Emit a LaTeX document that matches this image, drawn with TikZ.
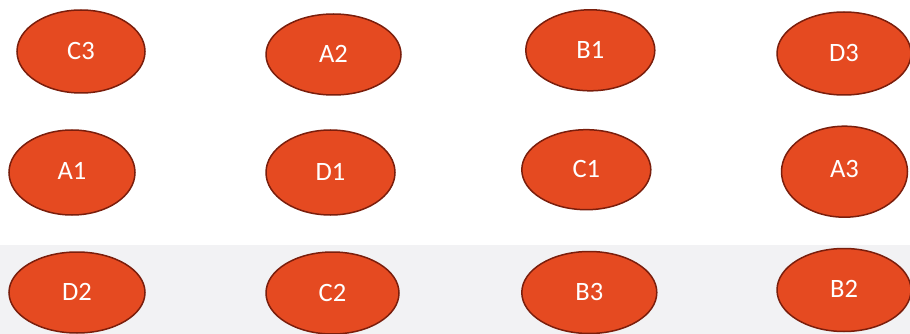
\documentclass[tikz,border=0pt]{standalone}
\usepackage{fontspec}
\setmainfont{Carlito}
\usetikzlibrary{shapes.geometric}
\definecolor{ovfill}{HTML}{E54A21}
\definecolor{ovline}{HTML}{7A1E0C}
\definecolor{bandgray}{HTML}{F2F2F4}
\tikzset{
  oval/.style={ellipse, draw=ovline, fill=ovfill, line width=1.5pt, inner sep=0pt,
    text=white, font=\fontsize{26.5}{26.5}\selectfont},
}
\begin{document}
\begin{tikzpicture}[x=1pt,y=-1pt]
\useasboundingbox (0,0) rectangle (910,334);
\fill[white] (0,0) rectangle (910,334);
\fill[bandgray] (0,245) rectangle (910,334);
% row 1
\node[oval, minimum width=128, minimum height=83] (c3) at (81,51.5) {\raisebox{2pt}{C3}};
\node[oval, minimum width=135, minimum height=81] (a2) at (333.5,54.5) {\raisebox{1pt}{A2}};
\node[oval, minimum width=129, minimum height=81] (b1) at (590.3,50.3) {\raisebox{1pt}{B1}};
\node[oval, minimum width=134, minimum height=83] (d3) at (844,53.5) {\raisebox{1pt}{D3}};
% row 2
\node[oval, minimum width=126, minimum height=85] (a1) at (72,172.5) {\raisebox{3pt}{A1}};
\node[oval, minimum width=129, minimum height=85] (d1) at (330.5,172.5) {\raisebox{2pt}{D1}};
\node[oval, minimum width=129, minimum height=80] (c1) at (586.3,169.7) {\raisebox{1pt}{C1}};
\node[oval, minimum width=126, minimum height=91] (a3) at (844.5,171.7) {\raisebox{5pt}{A3}};
% row 3
\node[oval, minimum width=136, minimum height=81] (d2) at (77,292.5) {\raisebox{2pt}{D2}};
\node[oval, minimum width=133, minimum height=82] (c2) at (332.5,293) {\raisebox{1pt}{C2}};
\node[oval, minimum width=135, minimum height=82] (b3) at (589.3,292.5) {\raisebox{2pt}{B3}};
\node[oval, minimum width=134, minimum height=83] (b2) at (844,290) {\raisebox{2pt}{B2}};
\end{tikzpicture}
\end{document}
